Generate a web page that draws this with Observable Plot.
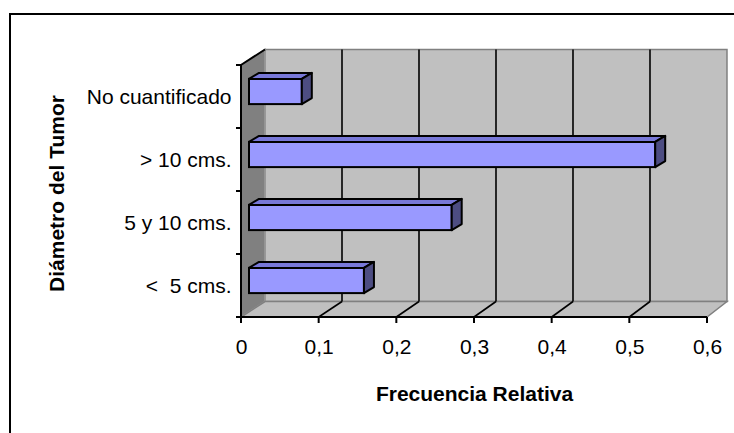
<!DOCTYPE html>
<html>
<head>
<meta charset="utf-8">
<script src="https://cdn.jsdelivr.net/npm/d3@7"></script>
<script src="https://cdn.jsdelivr.net/npm/@observablehq/plot@0.6"></script>
<style>
  body { margin: 0; background: #fff; }
  #wrap { position: relative; width: 734px; height: 433px; overflow: hidden; background: #fff; }
  #border { position: absolute; left: 9px; top: 13px; width: 1000px; height: 1000px; border: 2px solid #000; pointer-events: none; }
  #wrap svg text { font-family: "Liberation Sans", Arial, sans-serif; font-size: 21px; fill: #000; }
</style>
</head>
<body>
<div id="wrap"><div id="border"></div></div>
<script>
// ---- data ----
const categories = ["No cuantificado", "> 10 cms.", "5 y 10 cms.", "<\u00a0 5 cms."];
const values = [0.068, 0.523, 0.261, 0.148];
const xTicks = [0, 0.1, 0.2, 0.3, 0.4, 0.5, 0.6];
const xTickLabels = ["0", "0,1", "0,2", "0,3", "0,4", "0,5", "0,6"];
const xTitle = "Frecuencia Relativa";
const yTitle = "Diámetro del Tumor";

const data = categories.map((c, i) => ({category: c, value: values[i]}));

// ---- 3D styling ----
const DEPTH = {dx: 24, dy: -15.5, shrink: 0.0086};
const FACE = {dx: 8, dy: -5};
const BAR = {dx: 10, dy: -6};
const INSET = 18.9;

function pts(a) { return a.map(p => p.join(",")).join(" "); }

function bandInfo(y) {
  const bw = y.bandwidth ? y.bandwidth() : 0;
  const top = y(categories[0]);
  const bottom = y(categories[categories.length - 1]) + bw;
  return {bw, top, bottom};
}

// walls, floor, back gridlines
function walls(index, scales) {
  const x = scales.x, y = scales.y;
  const {top, bottom} = bandInfo(y);
  const x0 = x(xTicks[0]), xN = x(xTicks[xTicks.length - 1]);
  const P = (px, py) => [x0 + DEPTH.dx + (px - x0) * (1 - DEPTH.shrink), py + DEPTH.dy];
  const g = d3.create("svg:g");
  g.append("polygon").attr("points", pts([P(x0, top), P(xN, top), P(xN, bottom), P(x0, bottom)]))
    .attr("fill", "#c0c0c0").attr("stroke", "#808080").attr("stroke-width", 1.5);
  g.append("polygon").attr("points", pts([[x0, top], P(x0, top), P(x0, bottom), [x0, bottom]]))
    .attr("fill", "#808080").attr("stroke", "#9a9a9a").attr("stroke-width", 1.5);
  g.append("polygon").attr("points", pts([[x0, bottom], [xN, bottom], P(xN, bottom), P(x0, bottom)]))
    .attr("fill", "#c0c0c0").attr("stroke", "#808080").attr("stroke-width", 1.5);
  for (const t of xTicks.slice(1, -1)) {
    const px = x(t);
    g.append("line").attr("x1", P(px, top)[0]).attr("y1", P(px, top)[1])
      .attr("x2", P(px, bottom)[0]).attr("y2", P(px, bottom)[1])
      .attr("stroke", "#000").attr("stroke-width", 1.6);
    g.append("line").attr("x1", px).attr("y1", bottom)
      .attr("x2", P(px, bottom)[0]).attr("y2", P(px, bottom)[1])
      .attr("stroke", "#000").attr("stroke-width", 1.6);
  }
  g.append("line").attr("x1", x0).attr("y1", top).attr("x2", P(x0, top)[0]).attr("y2", P(x0, top)[1])
    .attr("stroke", "#000").attr("stroke-width", 2);
  return g.node();
}

// bar top and side faces
function barFaces(index, scales) {
  const x = scales.x, y = scales.y;
  const {bw} = bandInfo(y);
  const g = d3.create("svg:g").attr("stroke", "#000").attr("stroke-width", 2).attr("stroke-linejoin", "round");
  for (const d of data) {
    const xa = x(0) + FACE.dx, xb = x(d.value) + FACE.dx;
    const yt = y(d.category) + INSET + FACE.dy, yb = y(d.category) + bw - INSET + FACE.dy;
    g.append("polygon").attr("points", pts([[xa, yt], [xb, yt], [xb + BAR.dx, yt + BAR.dy], [xa + BAR.dx, yt + BAR.dy]]))
      .attr("fill", "#7878d8");
    g.append("polygon").attr("points", pts([[xb, yt], [xb + BAR.dx, yt + BAR.dy], [xb + BAR.dx, yb + BAR.dy], [xb, yb]]))
      .attr("fill", "#4d4d82");
  }
  return g.node();
}

// axis lines and ticks
function axes(index, scales) {
  const x = scales.x, y = scales.y;
  const {top, bottom} = bandInfo(y);
  const x0 = x(xTicks[0]), xN = x(xTicks[xTicks.length - 1]);
  const g = d3.create("svg:g").attr("stroke", "#000").attr("stroke-width", 2);
  g.append("line").attr("x1", x0).attr("y1", top).attr("x2", x0).attr("y2", bottom + 1);
  g.append("line").attr("x1", x0 - 1).attr("y1", bottom).attr("x2", xN).attr("y2", bottom);
  for (const t of xTicks) {
    g.append("line").attr("x1", x(t)).attr("y1", bottom).attr("x2", x(t)).attr("y2", bottom + 6);
  }
  const bounds = categories.map(c => y(c)).concat([bottom]);
  for (const b of bounds) {
    g.append("line").attr("x1", x0 - 5).attr("y1", b).attr("x2", x0).attr("y2", b);
  }
  return g.node();
}

const chart = Plot.plot({
  width: 734,
  height: 433,
  marginLeft: 241,
  marginRight: 27,
  marginTop: 63,
  marginBottom: 115,
  style: {background: "transparent", fontFamily: "Liberation Sans, Arial, sans-serif", fontSize: "21px"},
  x: {domain: [0, 0.6], ticks: xTicks, tickFormat: d => xTickLabels[xTicks.indexOf(d)], tickSize: 0, tickPadding: 21, label: null},
  y: {domain: categories, padding: 0, tickSize: 0, tickPadding: 10, label: null},
  marks: [
    walls,
    Plot.barX(data, {x: "value", y: "category", fill: "#9999ff", stroke: "#000", strokeWidth: 2,
      insetTop: INSET, insetBottom: INSET, dx: FACE.dx, dy: FACE.dy}),
    barFaces,
    axes,
    Plot.text([xTitle], {frameAnchor: "bottom", textAnchor: "middle", dy: 82, fontWeight: "bold"}),
    Plot.text([yTitle], {frameAnchor: "left", textAnchor: "middle", rotate: -90, dx: -184, dy: 2.5, fontWeight: "bold"})
  ]
});
document.getElementById("wrap").insertBefore(chart, document.getElementById("border"));
</script>
</body>
</html>
